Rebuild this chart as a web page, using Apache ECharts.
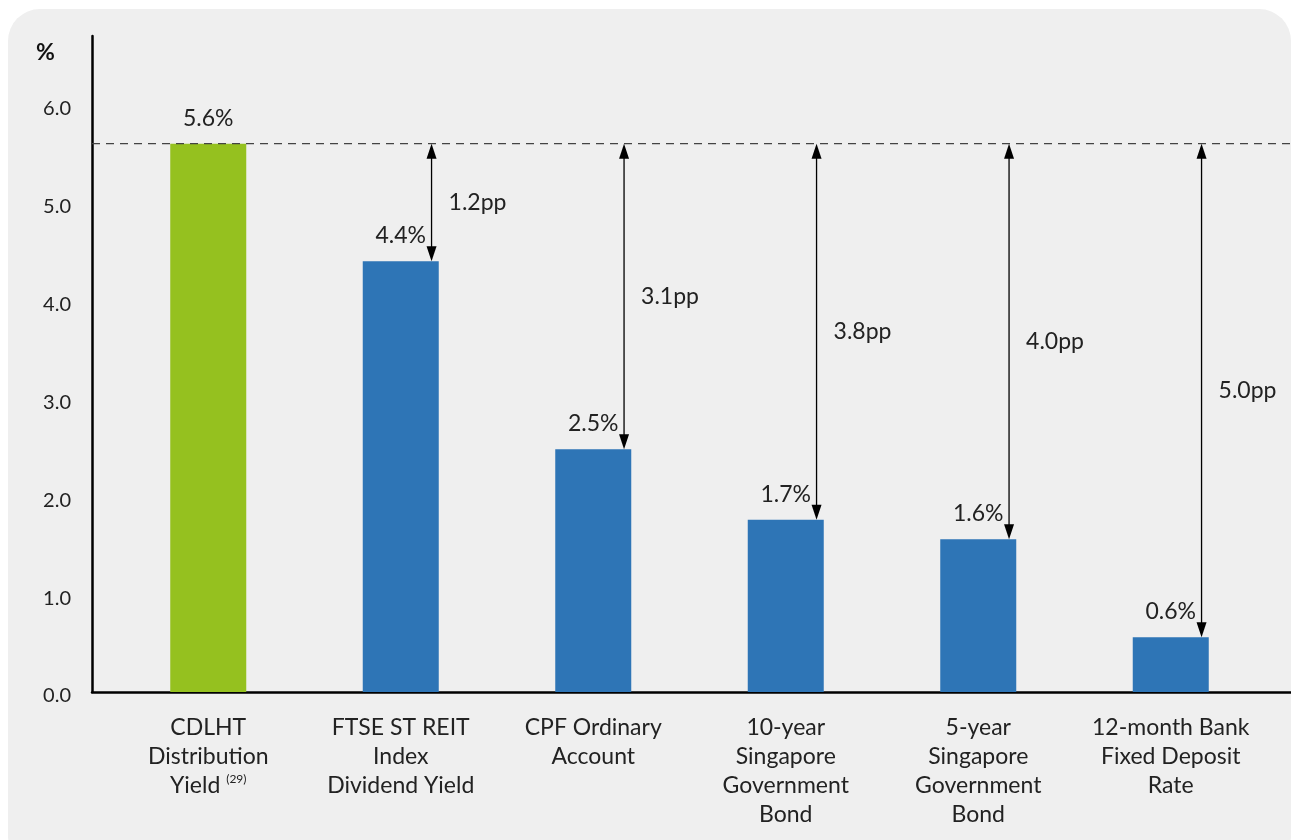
<!DOCTYPE html>
<html>
<head>
<meta charset="utf-8">
<script src="https://cdn.jsdelivr.net/npm/echarts@6/dist/echarts.min.js"></script>
<style>
  html, body { margin: 0; padding: 0; background: #ffffff; width: 1291px; height: 840px; overflow: hidden; }
  #bg { position: absolute; left: 8px; top: 9px; width: 1283px; height: 860px; background: #efefef; border-radius: 32px; }
  #chart { position: absolute; left: 0; top: 0; width: 1291px; height: 840px; }
</style>
</head>
<body>
<div id="bg"></div>
<div id="chart"></div>
<script>
const categories = [
  'CDLHT\nDistribution\nYield {sup|(29)}',
  'FTSE ST REIT\nIndex\nDividend Yield',
  'CPF Ordinary\nAccount',
  '10-year\nSingapore\nGovernment\nBond',
  '5-year\nSingapore\nGovernment\nBond',
  '12-month Bank\nFixed Deposit\nRate'
];
const values = [5.6, 4.4, 2.48, 1.76, 1.56, 0.56];
const valueLabels = ['5.6%', '4.4%', '2.5%', '1.7%', '1.6%', '0.6%'];
const gapLabels = ['', '1.2pp', '3.1pp', '3.8pp', '4.0pp', '5.0pp'];
const referenceValue = 5.6;
const yTicks = { min: 0, max: 6.7, interval: 1 };

const GREEN = '#95c11f';
const BLUE = '#2e75b6';
const TEXT = '#222222';
const FONT = 'Lato, "Open Sans", sans-serif';

const barData = values.map((v, i) => ({
  value: v,
  itemStyle: { color: i === 0 ? GREEN : BLUE }
}));
const arrowData = [];
values.forEach((v, i) => { if (gapLabels[i]) arrowData.push([i, v, gapLabels[i]]); });

const chart = echarts.init(document.getElementById('chart'), null, { renderer: 'canvas' });

chart.setOption({
  animation: false,
  backgroundColor: 'transparent',
  textStyle: { fontFamily: FONT },
  title: {
    text: '%', left: 36, top: 41, padding: 0,
    textStyle: { fontFamily: FONT, fontSize: 23, fontWeight: 'bold', color: '#111' }
  },
  grid: [
    { left: 92, right: 0, top: 36, bottom: 148 },
    { left: 112, right: 24, top: 36, bottom: 148 }
  ],
  xAxis: [
    {
      gridIndex: 0, type: 'value', min: 0, max: 1,
      axisLine: { show: true, lineStyle: { color: '#000', width: 2.5 } },
      axisTick: { show: false }, axisLabel: { show: false }, splitLine: { show: false }
    },
    {
      gridIndex: 1, type: 'category', data: categories,
      axisLine: { show: false }, axisTick: { show: false }, splitLine: { show: false },
      axisLabel: {
        interval: 0, margin: 21, fontSize: 23, lineHeight: 29, color: TEXT, fontFamily: FONT,
        rich: { sup: { fontSize: 12, lineHeight: 29, padding: [0, 0, 12, 0], color: TEXT, fontFamily: FONT } }
      }
    }
  ],
  yAxis: [
    {
      gridIndex: 0, type: 'value', min: yTicks.min, max: yTicks.max, interval: yTicks.interval,
      axisLine: { show: true, lineStyle: { color: '#000', width: 2.5 } },
      axisTick: { show: false }, splitLine: { show: false },
      axisLabel: {
        showMaxLabel: false, margin: 21, color: TEXT, fontFamily: FONT, fontSize: 20,
        rich: { t: { fontSize: 20, fontFamily: FONT, color: TEXT, padding: [8, 0, 0, 0] } },
        formatter: v => (Math.abs(v - Math.round(v)) < 1e-9 ? '{t|' + v.toFixed(1) + '}' : '')
      }
    },
    {
      gridIndex: 1, type: 'value', min: yTicks.min, max: yTicks.max, interval: yTicks.interval,
      show: false
    }
  ],
  series: [
    {
      type: 'line', xAxisIndex: 0, yAxisIndex: 0,
      data: [[0, referenceValue], [1, referenceValue]],
      showSymbol: false, symbol: 'none', silent: true, z: 5,
      lineStyle: { color: '#444', width: 1.3, type: [8, 6] }
    },
    {
      type: 'bar', xAxisIndex: 1, yAxisIndex: 1,
      data: barData, barWidth: 76, z: 2,
      label: {
        show: true, position: 'top', distance: 14, fontSize: 23, color: TEXT, fontFamily: FONT,
        formatter: p => valueLabels[p.dataIndex]
      }
    },
    {
      type: 'custom', xAxisIndex: 1, yAxisIndex: 1, z: 6, silent: true,
      data: arrowData,
      encode: { x: 0, y: 1 },
      renderItem: function (params, api) {
        const idx = api.value(0);
        const top = api.coord([idx, referenceValue]);
        const bot = api.coord([idx, api.value(1)]);
        const bw = api.size([1, 0])[0];
        const x = top[0] + bw * 0.16;
        const ah = 15, aw = 5;
        const label = arrowData[params.dataIndex][2];
        return {
          type: 'group',
          children: [
            { type: 'line', shape: { x1: x, y1: top[1] + ah - 2, x2: x, y2: bot[1] - ah + 2 },
              style: { stroke: '#000', lineWidth: 1.3 } },
            { type: 'polygon', shape: { points: [[x, top[1]], [x - aw, top[1] + ah], [x + aw, top[1] + ah]] },
              style: { fill: '#000' } },
            { type: 'polygon', shape: { points: [[x, bot[1]], [x - aw, bot[1] - ah], [x + aw, bot[1] - ah]] },
              style: { fill: '#000' } },
            { type: 'text', x: x + 17, y: (top[1] + bot[1]) / 2,
              style: { text: label, fontSize: 23, fill: TEXT, fontFamily: FONT, verticalAlign: 'middle', align: 'left' } }
          ]
        };
      }
    }
  ]
});
</script>
</body>
</html>
